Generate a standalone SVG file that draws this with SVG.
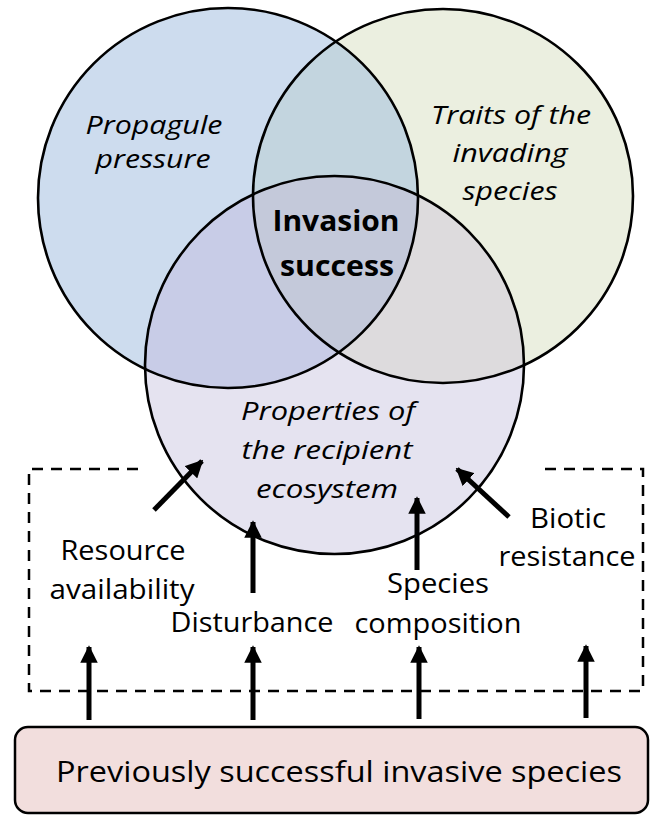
<svg xmlns="http://www.w3.org/2000/svg" width="651" height="815" viewBox="0 0 651 815">
<style>
.lbl{font-family:"Open Sans","Liberation Sans",sans-serif;font-size:26.5px;fill:#000;text-anchor:middle}
.it{font-style:italic;font-size:26px}
.bold{font-weight:bold;font-size:29px}
.ring{fill:none;stroke:#000;stroke-width:2.6}
.shaft{stroke:#000;stroke-width:5;fill:none}
.dash{fill:none;stroke:#000;stroke-width:2.5;stroke-dasharray:11 8}
</style>
<defs>
<clipPath id="cA"><ellipse cx="228" cy="198" rx="190" ry="190"/></clipPath>
<clipPath id="cB"><ellipse cx="443" cy="196" rx="190" ry="187"/></clipPath>
<marker id="ah" viewBox="0 0 10 10" refX="9" refY="5" markerWidth="3.5" markerHeight="3.5" markerUnits="strokeWidth" orient="auto">
<path d="M0,0 L10,5 L0,10 z" fill="#000"/>
</marker>
</defs>

<g id="dashed-box">
<path class="dash" d="M138,469 H29 V691 H643 V469 H539"/>
</g>

<g id="circle-propagule">
<ellipse cx="228" cy="198" rx="190" ry="190" fill="#cddcee"/>
</g>
<g id="circle-traits">
<ellipse cx="443" cy="196" rx="190" ry="187" fill="#ebefe0"/>
<g clip-path="url(#cA)"><ellipse cx="443" cy="196" rx="190" ry="187" fill="#c3d5df"/></g>
</g>
<g id="circle-properties">
<ellipse cx="334.5" cy="365" rx="189.5" ry="189" fill="#e5e3f0"/>
<g clip-path="url(#cA)"><ellipse cx="334.5" cy="365" rx="189.5" ry="189" fill="#c8cce7"/></g>
<g clip-path="url(#cB)"><ellipse cx="334.5" cy="365" rx="189.5" ry="189" fill="#dddbdd"/></g>
<g clip-path="url(#cB)"><g clip-path="url(#cA)"><ellipse cx="334.5" cy="365" rx="189.5" ry="189" fill="#c4c9da"/></g></g>
</g>
<g id="outlines">
<ellipse class="ring" cx="228" cy="198" rx="190" ry="190"/>
<ellipse class="ring" cx="443" cy="196" rx="190" ry="187"/>
<ellipse class="ring" cx="334.5" cy="365" rx="189.5" ry="189"/>
</g>

<g id="text-propagule">
<text class="lbl it" x="154" y="134" textLength="137" lengthAdjust="spacingAndGlyphs">Propagule</text>
<text class="lbl it" x="153" y="168" textLength="115" lengthAdjust="spacingAndGlyphs">pressure</text>
</g>
<g id="text-traits">
<text class="lbl it" x="511" y="124" textLength="160" lengthAdjust="spacingAndGlyphs">Traits of the</text>
<text class="lbl it" x="510" y="162" textLength="115" lengthAdjust="spacingAndGlyphs">invading</text>
<text class="lbl it" x="510" y="200" textLength="95" lengthAdjust="spacingAndGlyphs">species</text>
</g>
<g id="text-invasion">
<text class="lbl bold" x="336" y="231" textLength="127" lengthAdjust="spacingAndGlyphs">Invasion</text>
<text class="lbl bold" x="337" y="276" textLength="114" lengthAdjust="spacingAndGlyphs">success</text>
</g>
<g id="text-properties">
<text class="lbl it" x="328" y="420" textLength="174" lengthAdjust="spacingAndGlyphs">Properties of</text>
<text class="lbl it" x="327" y="459" textLength="171" lengthAdjust="spacingAndGlyphs">the recipient</text>
<text class="lbl it" x="327" y="498" textLength="142" lengthAdjust="spacingAndGlyphs">ecosystem</text>
</g>

<g id="connectors">
<line class="shaft" x1="154" y1="510" x2="202" y2="461" marker-end="url(#ah)"/>
<line class="shaft" x1="253" y1="593" x2="253" y2="522" marker-end="url(#ah)"/>
<line class="shaft" x1="417" y1="570" x2="417" y2="498" marker-end="url(#ah)"/>
<line class="shaft" x1="509" y1="517" x2="457" y2="469" marker-end="url(#ah)"/>
<line class="shaft" x1="89" y1="720" x2="89" y2="647" marker-end="url(#ah)"/>
<line class="shaft" x1="253" y1="720" x2="253" y2="647" marker-end="url(#ah)"/>
<line class="shaft" x1="419" y1="719" x2="419" y2="647" marker-end="url(#ah)"/>
<line class="shaft" x1="586" y1="718" x2="586" y2="646" marker-end="url(#ah)"/>
</g>

<g id="label-resource">
<text class="lbl" x="123" y="560" textLength="125" lengthAdjust="spacingAndGlyphs">Resource</text>
<text class="lbl" x="122" y="599" textLength="145" lengthAdjust="spacingAndGlyphs">availability</text>
</g>
<g id="label-disturbance">
<text class="lbl" x="252" y="632" textLength="163" lengthAdjust="spacingAndGlyphs">Disturbance</text>
</g>
<g id="label-species">
<text class="lbl" x="438" y="593" textLength="102" lengthAdjust="spacingAndGlyphs">Species</text>
<text class="lbl" x="438" y="633" textLength="167" lengthAdjust="spacingAndGlyphs">composition</text>
</g>
<g id="label-biotic">
<text class="lbl" x="568" y="528" textLength="76" lengthAdjust="spacingAndGlyphs">Biotic</text>
<text class="lbl" x="567" y="566" textLength="137" lengthAdjust="spacingAndGlyphs">resistance</text>
</g>

<g id="node-previous">
<rect x="15" y="727" width="633" height="86" rx="13" ry="13" fill="#f2dedd" stroke="#000" stroke-width="2.5"/>
<text class="lbl" x="339" y="782" style="font-size:29px" textLength="566" lengthAdjust="spacingAndGlyphs">Previously successful invasive species</text>
</g>
</svg>
